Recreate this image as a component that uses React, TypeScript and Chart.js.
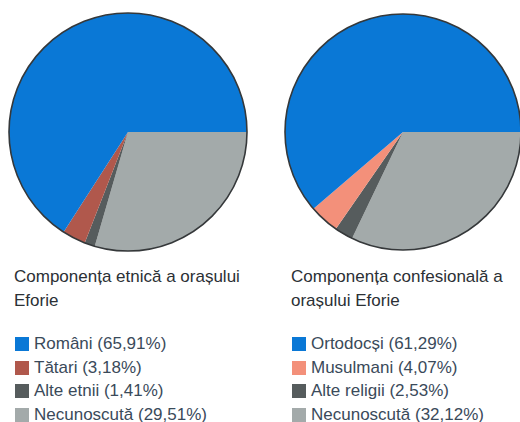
import React, { useEffect, useRef } from "react";
import { Chart, registerables } from "chart.js";

Chart.register(...registerables);

// Ethnic composition (legend order)
const ethnicLabels = ["Români", "Tătari", "Alte etnii", "Necunoscută"];
const ethnicValues = [65.91, 3.18, 1.41, 29.51];
const ethnicColors = ["#0a78d6", "#b0584c", "#565c5d", "#a3aaaa"];
const ethnicTitle = ["Componența etnică a orașului", "Eforie"];

// Religious composition (legend order)
const religLabels = ["Ortodocși", "Musulmani", "Alte religii", "Necunoscută"];
const religValues = [61.29, 4.07, 2.53, 32.12];
const religColors = ["#0a78d6", "#f3907a", "#565c5d", "#a3aaaa"];
const religTitle = ["Componența confesională a", "orașului Eforie"];

const FONT = '"Liberation Sans", Arial, Helvetica, sans-serif';

const fmt = (v: number) => v.toFixed(2).replace(".", ",");

const outlinePlugin = {
  id: "outline",
  afterDatasetsDraw(chart: any) {
    const meta = chart.getDatasetMeta(0);
    const arc = meta.data[0];
    if (!arc) return;
    const { x, y, outerRadius } = arc.getProps(["x", "y", "outerRadius"], true);
    const ctx = chart.ctx;
    ctx.save();
    ctx.beginPath();
    ctx.arc(x, y, outerRadius, 0, Math.PI * 2);
    ctx.strokeStyle = "#35383a";
    ctx.lineWidth = 1.6;
    ctx.stroke();
    ctx.restore();
  },
};

function Pie({ labels, values, colors, box }: { labels: string[]; values: number[]; colors: string[]; box: { left: number; top: number; size: number } }) {
  const ref = useRef<HTMLCanvasElement | null>(null);
  useEffect(() => {
    if (!ref.current) return;
    // Drawn clockwise from 3 o'clock in reverse legend order
    const order = [3, 2, 1, 0];
    const chart = new Chart(ref.current, {
      type: "pie",
      data: {
        labels: order.map((i) => labels[i]),
        datasets: [
          {
            data: order.map((i) => values[i]),
            backgroundColor: order.map((i) => colors[i]),
            borderWidth: 0,
          },
        ],
      },
      options: {
        animation: false,
        responsive: false,
        rotation: 90,
        layout: { padding: 3 },
        plugins: { legend: { display: false }, tooltip: { enabled: false }, title: { display: false } },
      },
      plugins: [outlinePlugin],
    });
    return () => chart.destroy();
  }, []);
  return (
    <canvas
      ref={ref}
      width={box.size}
      height={box.size}
      style={{ position: "absolute", left: box.left, top: box.top, width: box.size, height: box.size }}
    />
  );
}

function TextBlock({ left, title, labels, values, colors }: { left: number; title: string[]; labels: string[]; values: number[]; colors: string[] }) {
  return (
    <>
      <div
        style={{
          position: "absolute",
          left,
          top: 265,
          fontFamily: FONT,
          fontSize: 17,
          lineHeight: "24px",
          color: "#2b3035",
          whiteSpace: "nowrap",
        }}
      >
        {title.map((t, i) => (
          <div key={i}>{t}</div>
        ))}
      </div>
      <div style={{ position: "absolute", left, top: 332, fontFamily: FONT, fontSize: 17, color: "#3a4a5a" }}>
        {labels.map((l, i) => (
          <div key={i} style={{ height: 23.5, lineHeight: "23.5px", whiteSpace: "nowrap", position: "relative", paddingLeft: 20 }}>
            <span
              style={{
                position: "absolute",
                left: 1,
                top: 5,
                width: 14,
                height: 14,
                background: colors[i],
              }}
            />
            {l} ({fmt(values[i])}%)
          </div>
        ))}
      </div>
    </>
  );
}

export default function App() {
  return (
    <div
      style={{
        position: "fixed",
        left: 0,
        top: 0,
        width: 520,
        height: 422,
        overflow: "hidden",
        background: "#ffffff",
      }}
    >
      <Pie labels={ethnicLabels} values={ethnicValues} colors={ethnicColors} box={{ left: 6, top: 10, size: 244 }} />
      <Pie labels={religLabels} values={religValues} colors={religColors} box={{ left: 282, top: 11, size: 242 }} />
      <TextBlock left={14} title={ethnicTitle} labels={ethnicLabels} values={ethnicValues} colors={ethnicColors} />
      <TextBlock left={291} title={religTitle} labels={religLabels} values={religValues} colors={religColors} />
    </div>
  );
}
